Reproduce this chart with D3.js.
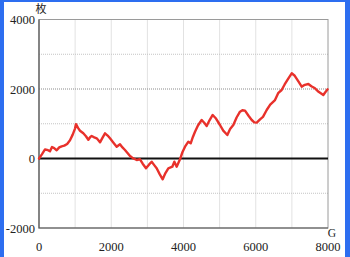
<!DOCTYPE html>
<html lang="ja">
<head>
  <meta charset="utf-8">
  <title>slump graph</title>
  <script src="https://d3js.org/d3.v7.min.js"></script>
  <style>
    html, body { margin: 0; padding: 0; background: #fff; }
    svg { display: block; }
  </style>
</head>
<body>
  <script>
    // data: games played vs. coin difference
    const games = [0, 80, 166, 250, 304, 360, 420, 490, 560, 628, 700, 780, 858, 930, 997, 1024, 1080, 1135, 1227, 1300,
      1366, 1420, 1458, 1530, 1597, 1650, 1689, 1760, 1827, 1900, 1965, 2050, 2150, 2242, 2310, 2380, 2450, 2519, 2600, 2704,
      2796, 2870, 2962, 3050, 3119, 3190, 3257, 3340, 3424, 3500, 3580, 3691, 3747, 3811, 3903, 3970, 4042, 4134, 4199, 4260,
      4319, 4400, 4503, 4580, 4642, 4720, 4808, 4900, 5010, 5100, 5213, 5290, 5379, 5470, 5564, 5630, 5703, 5800, 5889, 5960,
      6027, 6119, 6200, 6303, 6400, 6533, 6620, 6717, 6800, 6900, 6995, 7080, 7180, 7272, 7360, 7456, 7540, 7640, 7740, 7870,
      7920, 7990];
    const coins = [0, 120, 260, 240, 207, 330, 300, 236, 320, 351, 370, 420, 523, 680, 860, 990, 880, 800, 725, 640,
      540, 620, 647, 610, 581, 520, 466, 600, 725, 660, 581, 470, 340, 409, 320, 245, 160, 72, 10, -43,
      -23, -150, -282, -170, -92, -190, -282, -450, -599, -420, -282, -236, -92, -236, -23, 180, 340, 484, 437, 620,
      771, 950, 1108, 1020, 935, 1100, 1252, 1150, 964, 800, 676, 850, 964, 1180, 1347, 1390, 1376, 1230, 1108, 1040,
      1031, 1128, 1200, 1396, 1550, 1683, 1880, 1971, 2130, 2300, 2452, 2380, 2220, 2068, 2120, 2144, 2080, 2020, 1920, 1827,
      1900, 1991];
    const xTicks = [0, 2000, 4000, 6000, 8000];
    const yTicks = [-2000, 0, 2000, 4000];
    const xGrid = [1000, 2000, 3000, 4000, 5000, 6000, 7000];
    const yGrid = [-1000, 1000, 2000, 3000];

    const width = 350, height = 257;
    const plot = { left: 39, right: 328, top: 19.5, bottom: 228 };
    const serif = "'Liberation Serif', 'Times New Roman', 'DejaVu Serif', serif";

    const svg = d3.select("body").append("svg").attr("width", width).attr("height", height);

    // blue frame
    svg.append("rect").attr("x", 0).attr("y", 0).attr("width", width).attr("height", height).attr("fill", "#2d6ef0");
    svg.append("rect").attr("x", 4).attr("y", 2).attr("width", 341).attr("height", height).attr("fill", "#fff");

    const x = d3.scaleLinear().domain([0, 8000]).range([plot.left, plot.right]);
    const y = d3.scaleLinear().domain([-2000, 4000]).range([plot.bottom, plot.top]);

    // grid
    svg.append("g").selectAll("line").data(xGrid).join("line")
      .attr("x1", d => x(d)).attr("x2", d => x(d))
      .attr("y1", plot.top).attr("y2", plot.bottom)
      .attr("stroke", "#c4c4c4").attr("stroke-width", 1).attr("stroke-dasharray", "1,1");
    svg.append("g").selectAll("line").data(yGrid).join("line")
      .attr("x1", plot.left).attr("x2", plot.right)
      .attr("y1", d => y(d)).attr("y2", d => y(d))
      .attr("stroke", d => Math.abs(d) === 2000 ? "#8a8a8a" : "#c4c4c4")
      .attr("stroke-width", 1).attr("stroke-dasharray", "1,1");

    // plot frame
    svg.append("rect")
      .attr("x", plot.left).attr("y", plot.top)
      .attr("width", plot.right - plot.left).attr("height", plot.bottom - plot.top)
      .attr("fill", "none").attr("stroke", "#9a9a9a").attr("stroke-width", 1);
    svg.append("path")
      .attr("d", `M${plot.left},${plot.top}V${plot.bottom}H${plot.right}`)
      .attr("fill", "none").attr("stroke", "#555").attr("stroke-width", 1.2);

    // zero line
    svg.append("line")
      .attr("x1", plot.left).attr("x2", plot.right)
      .attr("y1", y(0)).attr("y2", y(0))
      .attr("stroke", "#111").attr("stroke-width", 1.8);

    // series
    const line = d3.line().x((d, i) => x(games[i])).y(d => y(d));
    svg.append("path").datum(coins)
      .attr("d", line)
      .attr("fill", "none").attr("stroke", "#e8312b").attr("stroke-width", 2.4)
      .attr("stroke-linejoin", "round").attr("stroke-linecap", "round");

    // tick labels
    svg.append("g").selectAll("text").data(yTicks).join("text")
      .attr("font-family", serif).attr("font-size", 12.5).attr("fill", "#222")
      .attr("x", plot.left - 4).attr("y", d => y(d))
      .attr("dy", "0.36em").attr("text-anchor", "end")
      .text(d => d);
    svg.append("g").selectAll("text").data(xTicks).join("text")
      .attr("font-family", serif).attr("font-size", 12.5).attr("fill", "#222")
      .attr("x", d => x(d)).attr("y", 251)
      .attr("text-anchor", "middle")
      .text(d => d);

    // units
    svg.append("text")
      .attr("font-family", serif).attr("font-size", 11.5).attr("fill", "#222")
      .attr("x", 332).attr("y", 237).attr("text-anchor", "middle").text("G");
    svg.append("text")
      .attr("font-family", "'Noto Sans CJK JP', sans-serif").attr("font-size", 11).attr("fill", "#222")
      .attr("x", 41).attr("y", 13).attr("text-anchor", "middle").text("枚");
  </script>
</body>
</html>
